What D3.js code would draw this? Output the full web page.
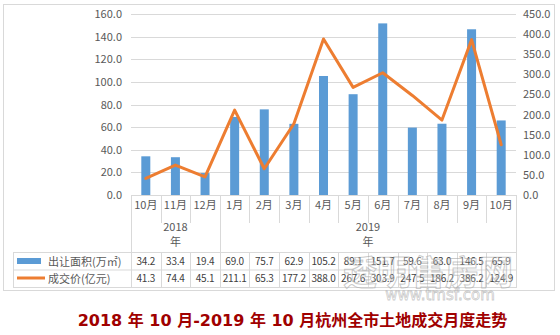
<!DOCTYPE html>
<html>
<head>
<meta charset="utf-8">
<script src="https://cdn.jsdelivr.net/npm/d3@7"></script>
<style>
html,body{margin:0;padding:0;background:#fff;}
svg{display:block;}
</style>
</head>
<body>
<svg id="chart" width="560" height="335"></svg>
<script>
const months = ["10月","11月","12月","1月","2月","3月","4月","5月","6月","7月","8月","9月","10月"];
const yearGroups = [{year:"2018", start:0, end:2}, {year:"2019", start:3, end:12}];
const areaValues = [34.2, 33.4, 19.4, 69.0, 75.7, 62.9, 105.2, 89.1, 151.7, 59.6, 63.0, 146.5, 65.9];
const priceValues = [41.3, 74.4, 45.1, 211.1, 65.3, 177.2, 388.0, 267.6, 303.9, 247.5, 186.2, 386.2, 124.9];
const leftTicks = [0, 20, 40, 60, 80, 100, 120, 140, 160];
const rightTicks = [0, 50, 100, 150, 200, 250, 300, 350, 400, 450];
const seriesNames = ["出让面积(万㎡)", "成交价(亿元)"];
const title = "2018 年 10 月-2019 年 10 月杭州全市土地成交月度走势";

const svg = d3.select("#chart");
const font = "'Noto Sans CJK SC', 'Noto Sans', sans-serif";
const gray = "#595959", grid = "#d9d9d9";
const blue = "#5b9bd5", orange = "#ed7d31";

const L = 131, R = 516, T = 14, B = 195;
const x = d3.scaleBand().domain(d3.range(months.length)).range([L, R]);
const yL = d3.scaleLinear().domain([0, 160]).range([B, T]);
const yR = d3.scaleLinear().domain([0, 450]).range([B, T]);

// outer frame
svg.append("rect").attr("x", 3.5).attr("y", 4.5).attr("width", 551).attr("height", 286)
  .attr("fill", "none").attr("stroke", grid);

// gridlines
svg.append("g").selectAll("line").data(leftTicks.slice(1)).join("line")
  .attr("x1", L).attr("x2", R)
  .attr("y1", d => Math.round(yL(d)) + 0.5).attr("y2", d => Math.round(yL(d)) + 0.5)
  .attr("stroke", grid);

// left axis
const gl = svg.append("g").attr("transform", `translate(${L - 9},0)`)
  .call(d3.axisLeft(yL).tickValues(leftTicks).tickFormat(d3.format(".1f")).tickSize(0).tickPadding(0));
gl.select(".domain").remove();
gl.selectAll("text").attr("fill", gray).style("font-family", font).style("font-size", "11px");

// right axis
const gr = svg.append("g").attr("transform", `translate(${R + 7},0)`)
  .call(d3.axisRight(yR).tickValues(rightTicks).tickFormat(d3.format(".1f")).tickSize(0).tickPadding(0));
gr.select(".domain").remove();
gr.selectAll("text").attr("fill", gray).style("font-family", font).style("font-size", "11px");

// bars
const bw = 9;
svg.append("g").selectAll("rect").data(areaValues).join("rect")
  .attr("x", (d, i) => x(i) + x.bandwidth() / 2 - bw / 2)
  .attr("width", bw)
  .attr("y", d => yL(d))
  .attr("height", d => B - yL(d))
  .attr("fill", blue);

// line
const line = d3.line().x((d, i) => x(i) + x.bandwidth() / 2).y(d => yR(d));
svg.append("path").datum(priceValues).attr("d", line)
  .attr("fill", "none").attr("stroke", orange).attr("stroke-width", 3)
  .attr("stroke-linejoin", "round").attr("stroke-linecap", "round");

// category axis & table
const TT = 252, TM = 269.5, TB = 287;
const tg = svg.append("g");
tg.append("line").attr("x1", L).attr("x2", R + 1).attr("y1", B + 0.5).attr("y2", B + 0.5).attr("stroke", grid);
const boundaries = d3.range(months.length + 1);
const isGroupEdge = i => i === 0 || i === months.length || yearGroups.some(g => g.start === i);
tg.selectAll("line.v").data(boundaries).join("line").attr("class", "v")
  .attr("x1", i => Math.round(i < months.length ? x(i) : R) + 0.5)
  .attr("x2", i => Math.round(i < months.length ? x(i) : R) + 0.5)
  .attr("y1", B)
  .attr("y2", i => isGroupEdge(i) ? TB : 223)
  .attr("stroke", grid);
tg.selectAll("line.tv").data(boundaries.filter(i => !isGroupEdge(i)))
  .join("line").attr("class", "tv")
  .attr("x1", i => Math.round(x(i)) + 0.5).attr("x2", i => Math.round(x(i)) + 0.5)
  .attr("y1", TT).attr("y2", TB).attr("stroke", grid);
[TT, TM, TB].forEach(yv => {
  tg.append("line").attr("x1", 13).attr("x2", R + 1).attr("y1", yv + 0.5).attr("y2", yv + 0.5).attr("stroke", grid);
});
tg.append("line").attr("x1", 13.5).attr("x2", 13.5).attr("y1", TT).attr("y2", TB).attr("stroke", grid);

tg.selectAll("text.m").data(months).join("text").attr("class", "m")
  .attr("x", (d, i) => x(i) + x.bandwidth() / 2).attr("y", 209)
  .attr("text-anchor", "middle").attr("fill", gray)
  .style("font-family", font).style("font-size", "11px").text(d => d);

yearGroups.forEach(g => {
  const cx = (x(g.start) + x(g.end) + x.bandwidth()) / 2;
  tg.append("text").attr("x", cx).attr("y", 231).attr("text-anchor", "middle")
    .attr("fill", gray).style("font-family", font).style("font-size", "11px").text(g.year);
  tg.append("text").attr("x", cx).attr("y", 246).attr("text-anchor", "middle")
    .attr("fill", gray).style("font-family", font).style("font-size", "11px").text("年");
});

// table values
[areaValues, priceValues].forEach((vals, r) => {
  const yy = r === 0 ? 265 : 282;
  tg.selectAll(null).data(vals).join("text")
    .attr("x", (d, i) => x(i) + x.bandwidth() / 2).attr("y", yy)
    .attr("text-anchor", "middle").attr("fill", "#404040")
    .style("font-family", font).style("font-size", "10px").style("letter-spacing", "-0.2px")
    .text(d => d.toFixed(1));
});

// legend cells
tg.append("rect").attr("x", 17).attr("y", 258).attr("width", 24).attr("height", 6).attr("fill", blue);
tg.append("line").attr("x1", 17).attr("x2", 45).attr("y1", 278).attr("y2", 278).attr("stroke", orange).attr("stroke-width", 3);
tg.append("text").attr("x", 48).attr("y", 265.5).attr("fill", gray)
  .style("font-family", font).style("font-size", "11px").text(seriesNames[0]);
tg.append("text").attr("x", 48).attr("y", 283).attr("fill", gray)
  .style("font-family", font).style("font-size", "11px").text(seriesNames[1]);

// watermark
svg.append("text").attr("x", 428).attr("y", 285).attr("text-anchor", "middle")
  .attr("fill", "rgba(255,255,255,0.3)").attr("stroke", "rgba(150,150,150,0.5)").attr("stroke-width", 1)
  .style("font-family", font).style("font-size", "34px").style("font-weight", "bold").text("透明售房网");
svg.append("text").attr("x", 440).attr("y", 300).attr("text-anchor", "middle")
  .attr("fill", "rgba(255,255,255,0.3)").attr("stroke", "rgba(150,150,150,0.5)").attr("stroke-width", 0.8)
  .style("font-family", "'DejaVu Sans', sans-serif").style("font-size", "15px").text("www.tmsf.com");

// title
svg.append("text").attr("x", 292.5).attr("y", 326).attr("text-anchor", "middle")
  .attr("fill", "#a00000").style("font-family", "'DejaVu Sans', 'Noto Sans CJK SC', sans-serif")
  .style("font-size", "16px").style("font-weight", "bold")
  .text(title);
</script>
</body>
</html>
